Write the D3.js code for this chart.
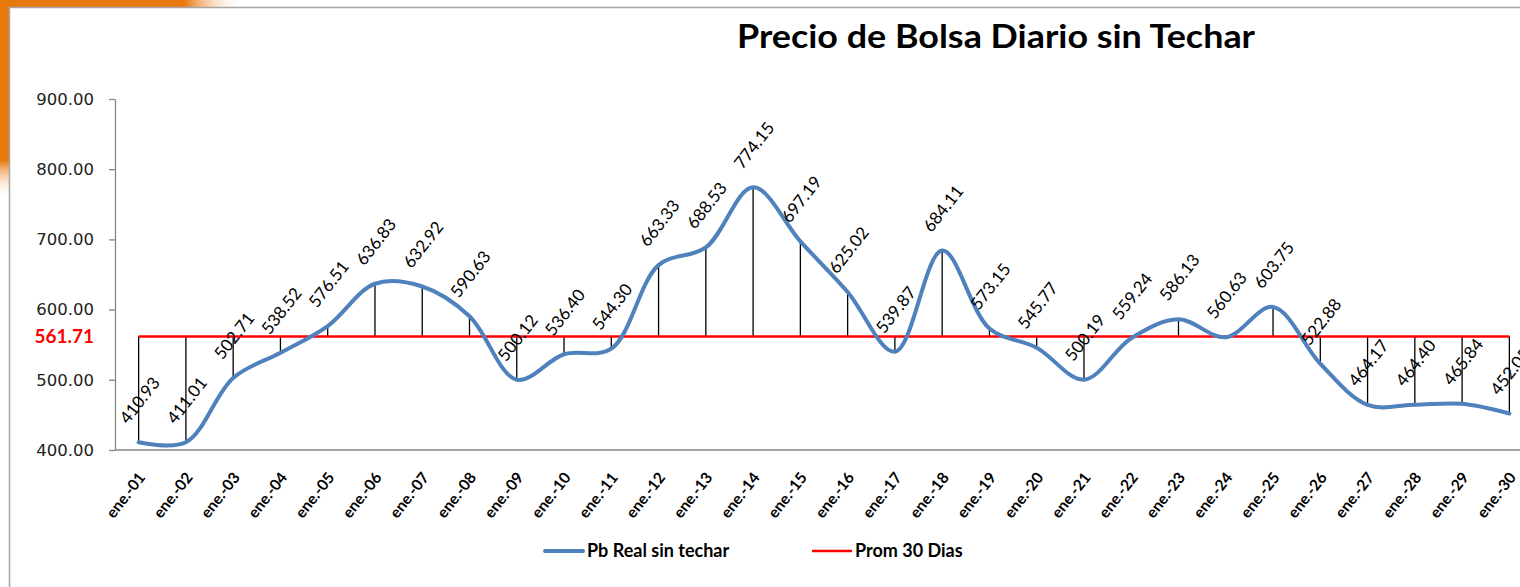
<!DOCTYPE html>
<html>
<head>
<meta charset="utf-8">
<script src="https://cdn.jsdelivr.net/npm/d3@7/dist/d3.min.js"></script>
<style>
  body { margin: 0; background: #fff; }
  svg { display: block; }
</style>
</head>
<body>
<svg id="chart"></svg>
<script>
var W = 1520, H = 587;

var dias = ["ene.-01","ene.-02","ene.-03","ene.-04","ene.-05","ene.-06","ene.-07","ene.-08","ene.-09","ene.-10",
  "ene.-11","ene.-12","ene.-13","ene.-14","ene.-15","ene.-16","ene.-17","ene.-18","ene.-19","ene.-20",
  "ene.-21","ene.-22","ene.-23","ene.-24","ene.-25","ene.-26","ene.-27","ene.-28","ene.-29","ene.-30"];
var precio = [410.93, 411.01, 502.71, 538.52, 576.51, 636.83, 632.92, 590.63, 500.12, 536.40,
  544.30, 663.33, 688.53, 774.15, 697.19, 625.02, 539.87, 684.11, 573.15, 545.77,
  500.19, 559.24, 586.13, 560.63, 603.75, 522.88, 464.17, 464.40, 465.84, 452.05];
var promedio = 561.71;
var yTicks = [400, 500, 600, 700, 800, 900];
var titulo = "Precio de Bolsa Diario sin Techar";
var series = ["Pb Real sin techar", "Prom 30 Dias"];

var _LEFT = 115, _RIGHT = 1533, _TOP = 99, _BOTTOM = 450;
var FONT = "Lato, 'Open Sans', sans-serif";

var svg = d3.select('#chart')
  .attr('width', W)
  .attr('height', H);

// orange background decoration behind the box
var defs = svg.append('defs');
var g1 = defs.append('linearGradient').attr('id', 'fadeTop')
  .attr('x1', '0%').attr('x2', '100%').attr('y1', '0').attr('y2', '0');
g1.append('stop').attr('offset', '0.75').attr('stop-color', '#e8780c');
g1.append('stop').attr('offset', '1').attr('stop-color', '#fff').attr('stop-opacity', 0);
var g2 = defs.append('linearGradient').attr('id', 'fadeLeft')
  .attr('x1', '0').attr('x2', '0').attr('y1', '0%').attr('y2', '100%');
g2.append('stop').attr('offset', '0.8').attr('stop-color', '#e8780c');
g2.append('stop').attr('offset', '1').attr('stop-color', '#fff').attr('stop-opacity', 0);

svg.append('rect').attr('x', 0).attr('y', 0).attr('width', 245).attr('height', 8).style('fill', 'url(#fadeTop)');
svg.append('rect').attr('x', 0).attr('y', 0).attr('width', 10).attr('height', 200).style('fill', 'url(#fadeLeft)');

// chart box
svg.append('rect')
  .attr('x', 9.5).attr('y', 7.5)
  .attr('width', W).attr('height', H)
  .style('fill', '#fff')
  .style('stroke', '#a6a6a6')
  .style('stroke-width', 1.5);

var x = d3.scalePoint().domain(dias).range([_LEFT, _RIGHT]).padding(0.5);
var y = d3.scaleLinear().domain([400, 900]).range([_BOTTOM, _TOP]);

// title
svg.append('text')
  .attr('x', 996).attr('y', 48)
  .attr('text-anchor', 'middle')
  .attr('textLength', 518)
  .attr('lengthAdjust', 'spacingAndGlyphs')
  .style('font-family', FONT)
  .style('font-weight', 'bold')
  .style('font-size', '32px')
  .style('fill', '#000')
  .text(titulo);

// y axis
var yAxis = svg.append('g')
  .attr('transform', 'translate(' + _LEFT + ',0)')
  .call(d3.axisLeft(y).tickValues(yTicks).tickSize(6).tickSizeOuter(0).tickFormat(d3.format('.2f')));
yAxis.select('.domain').style('stroke', '#868686').style('stroke-width', 1.3);
yAxis.selectAll('.tick line').style('stroke', '#868686').style('stroke-width', 1.3);
yAxis.selectAll('.tick text')
  .attr('x', -21)
  .style('font-family', "'DejaVu Sans', sans-serif")
  .style('font-size', '16.5px')
  .style('fill', '#222');

// red average label on y axis
svg.append('text')
  .attr('x', _LEFT - 21).attr('y', y(promedio))
  .attr('dy', '0.35em')
  .attr('text-anchor', 'end')
  .style('font-family', FONT)
  .style('font-weight', 'bold')
  .style('font-size', '19px')
  .style('fill', '#ff0000')
  .text(d3.format('.2f')(promedio));

// x axis line
svg.append('line')
  .attr('x1', _LEFT).attr('x2', W)
  .attr('y1', _BOTTOM).attr('y2', _BOTTOM)
  .style('stroke', '#868686')
  .style('stroke-width', 1.3);

svg.append('g').selectAll('text')
  .data(dias)
  .enter()
  .append('text')
  .attr('transform', function(d) {
    return 'translate(' + (x(d) - 13) + ',' + (_BOTTOM + 45) + ') rotate(-52)';
  })
  .attr('text-anchor', 'middle')
  .attr('dy', '0.35em')
  .style('font-family', FONT)
  .style('font-weight', 'bold')
  .style('font-size', '15.5px')
  .style('fill', '#000')
  .text(function(d) { return d; });

// stems from average line to each point
svg.append('g').selectAll('line')
  .data(precio)
  .enter()
  .append('line')
  .attr('x1', function(d, i) { return x(dias[i]); })
  .attr('x2', function(d, i) { return x(dias[i]); })
  .attr('y1', y(promedio))
  .attr('y2', function(d) { return y(d); })
  .style('stroke', '#000')
  .style('stroke-width', 1.3);

// average line
svg.append('line')
  .attr('x1', x(dias[0])).attr('x2', x(dias[dias.length - 1]))
  .attr('y1', y(promedio)).attr('y2', y(promedio))
  .style('stroke', '#ff0000')
  .style('stroke-width', 2.5);

// price line
var line = d3.line()
  .x(function(d, i) { return x(dias[i]); })
  .y(function(d) { return y(d); })
  .curve(d3.curveCatmullRom.alpha(0.5));

svg.append('path')
  .datum(precio)
  .attr('d', line)
  .style('fill', 'none')
  .style('stroke', '#4f81bd')
  .style('stroke-width', 4)
  .style('stroke-linecap', 'round');

// data labels
svg.append('g').selectAll('text')
  .data(precio)
  .enter()
  .append('text')
  .attr('transform', function(d, i) {
    return 'translate(' + (x(dias[i]) + 1) + ',' + (y(d) - 42) + ') rotate(-52)';
  })
  .attr('text-anchor', 'middle')
  .attr('dy', '0.35em')
  .style('font-family', FONT)
  .style('font-size', '17px')
  .style('fill', '#000')
  .text(function(d) { return d3.format('.2f')(d); });

// legend
var legend = svg.append('g');
var legendItems = [
  { name: series[0], x: 545, color: '#4f81bd', width: 4 },
  { name: series[1], x: 813, color: '#ff0000', width: 2.5 }
];
legendItems.forEach(function(it) {
  legend.append('line')
    .attr('x1', it.x).attr('x2', it.x + 38)
    .attr('y1', 551).attr('y2', 551)
    .style('stroke', it.color)
    .style('stroke-width', it.width)
    .style('stroke-linecap', 'round');
  legend.append('text')
    .attr('x', it.x + 42).attr('y', 551)
    .attr('dy', '0.35em')
    .style('font-family', FONT)
    .style('font-weight', 'bold')
    .style('font-size', '18px')
    .style('fill', '#000')
    .text(it.name);
});
</script>
</body>
</html>
